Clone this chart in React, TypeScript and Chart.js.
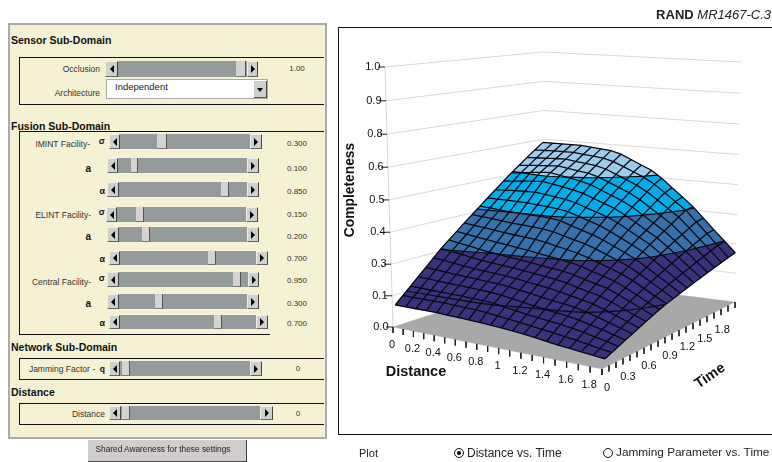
import React, { useEffect, useRef } from "react";
import { Chart, registerables } from "chart.js";

Chart.register(...registerables);

const distanceValues = [0, 0.1, 0.2, 0.3, 0.4, 0.5, 0.6, 0.7, 0.8, 0.9, 1.0, 1.1, 1.2, 1.3, 1.4, 1.5, 1.6, 1.7, 1.8, 1.9];
const timeValues = [0, 0.1, 0.2, 0.3, 0.4, 0.5, 0.6, 0.7, 0.8, 0.9, 1.0, 1.1, 1.2, 1.3, 1.4, 1.5, 1.6, 1.7, 1.8, 1.9];
const distanceTickValues = [0, 0.2, 0.4, 0.6, 0.8, 1, 1.2, 1.4, 1.6, 1.8];
const distanceTickLabels = ["0", "0.2", "0.4", "0.6", "0.8", "1", "1.2", "1.4", "1.6", "1.8"];
const timeTickValues = [0, 0.3, 0.6, 0.9, 1.2, 1.5, 1.8];
const timeTickLabels = ["0", "0.3", "0.6", "0.9", "1.2", "1.5", "1.8"];
const completenessTickValues = [0, 0.125, 0.25, 0.375, 0.5, 0.625, 0.75, 0.875, 1];
const completenessTickLabels = ["0.0", "0.1", "0.3", "0.4", "0.5", "0.6", "0.8", "0.9", "1.0"];
const bandEdges = [0, 0.125, 0.25, 0.375, 0.5, 1];
const bandColors = ["#39327d", "#39327d", "#3871aa", "#00ade9", "#9fcbea"];

// completeness[time index][distance index]
const completeness = [
  [.085,.085,.085,.085,.085,.083,.082,.081,.079,.076,.074,.071,.067,.062,.056,.051,.047,.043,.039,.035],
  [.112,.112,.112,.112,.112,.110,.109,.108,.105,.100,.095,.091,.086,.081,.076,.070,.064,.058,.051,.045],
  [.139,.138,.137,.137,.136,.135,.133,.132,.129,.122,.116,.110,.105,.100,.095,.089,.081,.073,.064,.055],
  [.167,.165,.163,.161,.160,.158,.156,.154,.150,.144,.137,.131,.125,.120,.114,.107,.097,.087,.076,.065],
  [.195,.192,.189,.186,.183,.181,.178,.176,.172,.166,.160,.153,.147,.142,.135,.126,.114,.101,.088,.075],
  [.224,.220,.215,.211,.206,.203,.200,.197,.193,.187,.182,.176,.169,.161,.152,.144,.130,.115,.100,.085],
  [.253,.247,.241,.235,.229,.226,.222,.218,.214,.209,.204,.199,.191,.181,.171,.162,.147,.130,.113,.096],
  [.279,.272,.266,.259,.253,.249,.244,.240,.235,.230,.225,.221,.212,.201,.191,.180,.163,.144,.125,.106],
  [.305,.299,.294,.288,.283,.278,.273,.268,.262,.256,.250,.244,.235,.222,.210,.197,.178,.157,.136,.116],
  [.332,.327,.323,.318,.313,.309,.306,.302,.296,.287,.279,.270,.258,.243,.229,.214,.194,.171,.148,.126],
  [.358,.354,.351,.347,.343,.341,.338,.335,.329,.318,.307,.297,.283,.266,.249,.232,.209,.184,.159,.134],
  [.385,.382,.379,.376,.374,.373,.372,.370,.364,.350,.337,.324,.308,.289,.270,.249,.224,.197,.170,.142],
  [.412,.411,.411,.410,.409,.406,.403,.399,.392,.378,.365,.351,.332,.311,.290,.268,.240,.210,.180,.150],
  [.439,.441,.443,.445,.446,.441,.435,.429,.420,.405,.391,.377,.358,.334,.310,.286,.255,.223,.190,.158],
  [.467,.471,.476,.480,.483,.476,.468,.460,.450,.434,.418,.402,.380,.354,.328,.303,.270,.235,.200,.166],
  [.495,.500,.505,.510,.512,.505,.497,.489,.478,.460,.442,.425,.403,.375,.347,.320,.285,.248,.211,.174],
  [.521,.524,.528,.531,.533,.527,.520,.514,.503,.485,.467,.449,.425,.396,.367,.338,.300,.261,.221,.182],
  [.548,.550,.552,.554,.555,.549,.544,.538,.528,.509,.491,.472,.448,.418,.387,.357,.316,.274,.232,.190],
  [.574,.575,.576,.577,.577,.572,.568,.563,.552,.534,.515,.496,.471,.439,.407,.375,.331,.287,.242,.198],
  [.600,.600,.600,.600,.600,.596,.592,.588,.576,.557,.537,.518,.488,.452,.416,.380,.336,.291,.248,.205],
];

const sliderNames = ["Occlusion", "IMINT sigma", "IMINT a", "IMINT alpha", "ELINT sigma", "ELINT a", "ELINT alpha", "Central sigma", "Central a", "Central alpha", "Jamming", "Distance"];
const sliderReadouts = ["1.00", "0.300", "0.100", "0.850", "0.150", "0.200", "0.700", "0.950", "0.300", "0.700", "0", "0"];

// Slider widgets: [top, height, left, right, thumbLeft, thumbWidth, leftButton, rightButton, readoutY]
const sliderBoxes = [
  [61, 16, 105, 258, 236, 10, 13, 11, 69],
  [134, 15, 109, 262, 157, 10, 11, 12, 144],
  [158, 15, 107, 259, 131, 7, 11, 12, 169],
  [182, 15, 107, 259, 221, 8, 12, 12, 192],
  [207, 15, 106, 258, 136, 8, 11, 12, 215],
  [227, 15, 107, 259, 142, 8, 12, 12, 237],
  [251, 14, 109, 268, 208, 8, 11, 12, 259],
  [272, 15, 107, 259, 233, 8, 12, 11, 281],
  [294, 15, 107, 259, 155, 8, 12, 12, 304],
  [315, 14, 109, 268, 214, 8, 11, 12, 324],
  [361, 15, 109, 262, 122, 8, 11, 12, 369],
  [406, 14, 109, 273, 122, 8, 12, 13, 414],
];

const FONT = '"Liberation Sans", Arial, sans-serif';

// Floor corners of the 3D box on the page and the height of its walls there.
const floorCorners = [[393, 327], [602, 369], [735, 302], [545, 278]];
const wallHeights = [260, 290, 240, 226];
const MAXD = 1.9;
const MAXT = 1.9;

function project(d: number, t: number, z: number, inset = false) {
  const raw = d / MAXD, v = t / MAXT;
  const u = (0.92 * raw) / (1 - 0.08 * raw);
  const w = [(1 - u) * (1 - v), u * (1 - v), u * v, (1 - u) * v];
  const fx = w.reduce((s, k, i) => s + k * floorCorners[i][0], 0);
  const fy = w.reduce((s, k, i) => s + k * floorCorners[i][1], 0);
  const S = w.reduce((s, k, i) => s + k * wallHeights[i], 0);
  const shift = inset ? 3 * (1 - v) - 1 * v : 0;
  return { x: fx + (fx - 589) * 0.041 * z + shift, y: fy - S * z };
}
// The walls' levels sit slightly lower mid-height on the page.
const wallLevel = (z: number) => z - 0.045 * z * (1 - z);

type V = { d: number; t: number; z: number };
function clipAbove(poly: V[], level: number, keepAbove: boolean): V[] {
  const out: V[] = [];
  for (let k = 0; k < poly.length; k++) {
    const a = poly[k], b = poly[(k + 1) % poly.length];
    const ina = keepAbove ? a.z >= level : a.z <= level;
    const inb = keepAbove ? b.z >= level : b.z <= level;
    if (ina) out.push(a);
    if (ina !== inb) {
      const f = (level - a.z) / (b.z - a.z);
      out.push({ d: a.d + f * (b.d - a.d), t: a.t + f * (b.t - a.t), z: level });
    }
  }
  return out;
}

function surfaceDatasets() {
  const sets: any[] = [];
  const polyBase = { type: "scatter", showLine: false, pointRadius: 0 };
  const lineBase = { type: "scatter", showLine: true, pointRadius: 0, fill: false, spanGaps: false, tension: 0 };

  // Back walls
  const wall: any[] = [];
  completenessTickValues.forEach((z) => {
    if (z === 0) return;
    const lv = wallLevel(z);
    wall.push(project(0, 0, lv), project(0, MAXT, lv), project(MAXD, MAXT, lv), { x: NaN, y: NaN });
  });
  wall.push(project(0, 0, 0), project(0, 0, 1));
  sets.push({ ...lineBase, label: "walls", data: wall, borderColor: "#d8d8d8", borderWidth: 1 });

  // Floor
  sets.push({
    ...polyBase, label: "floor", polyFill: "#a8a8a8",
    data: [project(0, 0, 0), project(MAXD, 0, 0), project(MAXD, MAXT, 0), project(0, MAXT, 0)],
  });

  // Axis ticks
  const ticks: any[] = [];
  const zticks: any[] = [];
  distanceValues.forEach((d) => {
    const p = project(d, 0, 0);
    ticks.push(p, { x: p.x, y: p.y + 6 }, { x: NaN, y: NaN });
  });
  timeValues.forEach((t) => {
    const p = project(MAXD, t, 0);
    ticks.push(p, { x: p.x, y: p.y + 6 }, { x: NaN, y: NaN });
  });
  completenessTickValues.forEach((z) => {
    const p = project(0, 0, wallLevel(z));
    zticks.push({ x: p.x - 7, y: p.y }, p, { x: NaN, y: NaN });
  });
  sets.push({ ...lineBase, label: "ticks", data: ticks, borderColor: "#222", borderWidth: 1 });
  sets.push({ ...lineBase, label: "zticks", data: zticks, borderColor: "#222", borderWidth: 1 });

  // Filled surface, back to front, cut along the colour bands
  const n = timeValues.length, m = distanceValues.length;
  for (let j = n - 2; j >= 0; j--) {
    for (let i = 0; i < m - 1; i++) {
      const quad: V[] = [
        { d: distanceValues[i], t: timeValues[j], z: completeness[j][i] },
        { d: distanceValues[i + 1], t: timeValues[j], z: completeness[j][i + 1] },
        { d: distanceValues[i + 1], t: timeValues[j + 1], z: completeness[j + 1][i + 1] },
        { d: distanceValues[i], t: timeValues[j + 1], z: completeness[j + 1][i] },
      ];
      bandColors.forEach((color, b) => {
        let poly = clipAbove(quad, bandEdges[b], true);
        if (poly.length) poly = clipAbove(poly, bandEdges[b + 1], false);
        if (poly.length < 3) return;
        sets.push({
          ...polyBase, label: "cell", polyFill: color,
          data: poly.map((p) => project(p.d, p.t, p.z, true)),
        });
      });
    }
  }

  // Mesh
  const mesh: any[] = [];
  for (let j = 0; j < n; j++) {
    for (let i = 0; i < m; i++) mesh.push(project(distanceValues[i], timeValues[j], completeness[j][i], true));
    mesh.push({ x: NaN, y: NaN });
  }
  for (let i = 0; i < m; i++) {
    for (let j = 0; j < n; j++) mesh.push(project(distanceValues[i], timeValues[j], completeness[j][i], true));
    mesh.push({ x: NaN, y: NaN });
  }
  sets.push({ ...lineBase, label: "mesh", data: mesh, borderColor: "#08080f", borderWidth: 1.3 });

  // Contours at the band edges
  const contour: any[] = [];
  [0.125, 0.25, 0.375, 0.5].forEach((level) => {
    for (let j = 0; j < n - 1; j++) {
      for (let i = 0; i < m - 1; i++) {
        const c: V[] = [
          { d: distanceValues[i], t: timeValues[j], z: completeness[j][i] },
          { d: distanceValues[i + 1], t: timeValues[j], z: completeness[j][i + 1] },
          { d: distanceValues[i + 1], t: timeValues[j + 1], z: completeness[j + 1][i + 1] },
          { d: distanceValues[i], t: timeValues[j + 1], z: completeness[j + 1][i] },
        ];
        const hits: any[] = [];
        for (let k = 0; k < 4; k++) {
          const a = c[k], b = c[(k + 1) % 4];
          if (a.z >= level !== b.z >= level) {
            const f = (level - a.z) / (b.z - a.z);
            hits.push(project(a.d + f * (b.d - a.d), a.t + f * (b.t - a.t), level, true));
          }
        }
        for (let k = 0; k + 1 < hits.length; k += 2) contour.push(hits[k], hits[k + 1], { x: NaN, y: NaN });
      }
    }
  });
  sets.push({ ...lineBase, label: "contours", data: contour, borderColor: "#08080f", borderWidth: 1.2 });
  return sets;
}

const polyPlugin = {
  id: "polyFill",
  beforeDatasetDraw(chart: any, args: any) {
    const ds = chart.data.datasets[args.index];
    if (!ds.polyFill) return;
    const pts = args.meta.data;
    const ctx = chart.ctx;
    ctx.save();
    ctx.beginPath();
    pts.forEach((p: any, k: number) => (k ? ctx.lineTo(p.x, p.y) : ctx.moveTo(p.x, p.y)));
    ctx.closePath();
    ctx.fillStyle = ds.polyFill;
    ctx.strokeStyle = ds.polyFill;
    ctx.lineWidth = 0.4;
    ctx.fill();
    ctx.stroke();
    ctx.restore();
  },
};

const labelPlugin = {
  id: "axisLabels",
  afterDatasetsDraw(chart: any) {
    const ctx = chart.ctx;
    const xs = chart.scales.x, ys = chart.scales.y;
    const put = (p: { x: number; y: number }, ox: number, oy: number, text: string, font: string, align: CanvasTextAlign = "center", angle = 0) => {
      ctx.save();
      ctx.translate(xs.getPixelForValue(p.x) + ox, ys.getPixelForValue(p.y) + oy);
      ctx.rotate(angle);
      ctx.font = font;
      ctx.fillStyle = "#111";
      ctx.textAlign = align;
      ctx.textBaseline = "middle";
      ctx.fillText(text, 0, 0);
      ctx.restore();
    };
    const small = `11px ${FONT}`;
    completenessTickValues.forEach((z, k) => put(project(0, 0, wallLevel(z)), -4.5, 0, completenessTickLabels[k], small, "right"));
    distanceTickValues.forEach((d, k) => put(project(d, 0, 0), -1, 18, distanceTickLabels[k], small));
    timeTickValues.forEach((t, k) => {
      const far = Math.max(0, t - 0.9);
      put(project(MAXD, t, 0), 5 - far * 12, 18.5 + far * 7, timeTickLabels[k], small);
    });
    put({ x: 416, y: 372 }, 0, 0, "Distance", `bold 14.5px ${FONT}`);
    put({ x: 710, y: 376 }, 0, 0, "Time", `bold 14.5px ${FONT}`, "center", -0.6);
    put({ x: 350, y: 190 }, 0, 0, "Completeness", `bold 13.8px ${FONT}`, "center", -Math.PI / 2);
  },
};

const abs = (left: number, top: number, width: number, height: number, extra: any = {}) => ({
  position: "absolute" as const, left, top, width, height, boxSizing: "border-box" as const, ...extra,
});

function Arrow({ dir }: { dir: "l" | "r" }) {
  return (
    <span style={{
      position: "absolute", left: "50%", top: "50%", marginLeft: -2, marginTop: -4, width: 0, height: 0,
      borderTop: "4px solid transparent", borderBottom: "4px solid transparent",
      ...(dir === "l" ? { borderRight: "4px solid #000" } : { borderLeft: "4px solid #000" }),
    }} />
  );
}

function Slider({ box, name }: { box: number[]; name: string }) {
  const [top, h, left, right, tl, tw, lb, rb] = box;
  const btn = { background: "#cfcfcb", borderTop: "1px solid #eee", borderLeft: "1px solid #eee", borderRight: "1px solid #444", borderBottom: "1px solid #666" };
  return (
    <div title={name}>
      <div style={abs(left, top, right - left, h, { background: "#959b9b" })} />
      <div style={abs(left, top, lb, h, btn)}><Arrow dir="l" /></div>
      <div style={abs(right - rb, top, rb, h, btn)}><Arrow dir="r" /></div>
      <div style={abs(tl, top, tw, h, { background: "#d4d3cf", borderRight: "1px solid #555", borderBottom: "1px solid #777" })} />
    </div>
  );
}

function Txt({ x, y, right, center, size = 9, bold, color = "#333", children }: any) {
  const pos: any = { position: "absolute", top: y, transform: "translateY(-50%)", whiteSpace: "nowrap", fontSize: size, fontWeight: bold ? 700 : 400, color, lineHeight: 1, fontFamily: FONT };
  if (right !== undefined) { pos.right = 772 - right; }
  else if (center !== undefined) { pos.left = center; pos.transform = "translate(-50%,-50%)"; }
  else pos.left = x;
  return <div style={pos}>{children}</div>;
}

function GroupBox({ top, bottom, bottomRight = 324 }: any) {
  return (
    <>
      <div style={abs(19, top, 305, 1, { background: "#111" })} />
      <div style={abs(19, top, 1, bottom - top, { background: "#111" })} />
      <div style={abs(19, bottom, bottomRight - 19, 1, { background: "#111" })} />
    </>
  );
}

function Radio({ x, y, on }: any) {
  return (
    <div style={abs(x - 5, y - 5, 10, 10, { border: "1.5px solid #111", borderRadius: "50%", background: "#fff" })}>
      {on && <div style={{ position: "absolute", left: 2, top: 2, width: 3.5, height: 3.5, borderRadius: "50%", background: "#111" }} />}
    </div>
  );
}

export default function App() {
  const ref = useRef<HTMLCanvasElement>(null);
  useEffect(() => {
    const layers = surfaceDatasets().reverse();
    const chart = new Chart(ref.current as any, {
      type: "scatter",
      data: { datasets: layers },
      plugins: [polyPlugin, labelPlugin],
      options: {
        animation: false,
        responsive: false,
        events: [],
        layout: { padding: 0 },
        plugins: { legend: { display: false }, tooltip: { enabled: false } },
        scales: {
          x: { type: "linear", min: 0, max: 772, display: false },
          y: { type: "linear", min: 0, max: 462, reverse: true, display: false },
        },
      },
    } as any);
    return () => chart.destroy();
  }, []);

  return (
    <div style={{ position: "fixed", left: 0, top: 0, width: 772, height: 462, overflow: "hidden", background: "#fff", fontFamily: FONT }}>
      <canvas ref={ref} width={772} height={462} style={{ position: "absolute", left: 0, top: 0, width: 772, height: 462 }} />

      {/* plot frame */}
      <div style={abs(338, 27, 440, 408, { border: "1px solid #111" })} />

      <div style={{ position: "absolute", right: 1, top: 14, transform: "translateY(-50%)", fontSize: 13, lineHeight: 1, color: "#222", whiteSpace: "nowrap" }}>
        <b>RAND</b> <i>MR1467-C.3</i>
      </div>

      {/* control panel */}
      <div style={abs(8, 23, 319, 416, { background: "#f5f1d4", border: "2px solid #a9acaa" })} />
      <Txt x={11} y={40} size={10.5} bold color="#111">Sensor Sub-Domain</Txt>
      <GroupBox top={57} bottom={104} />
      <Txt x={11} y={126} size={10.5} bold color="#111">Fusion Sub-Domain</Txt>
      <GroupBox top={131} bottom={334} bottomRight={270} />
      <Txt x={11} y={347} size={10.5} bold color="#111">Network Sub-Domain</Txt>
      <GroupBox top={358} bottom={379} />
      <Txt x={11} y={392} size={10.5} bold color="#111">Distance</Txt>
      <GroupBox top={403} bottom={424} />

      {sliderBoxes.map((b, k) => <Slider key={k} box={b} name={sliderNames[k]} />)}
      {sliderBoxes.map((b, k) => <Txt key={k} center={sliderReadouts[k].length > 1 ? 297 : 298} y={b[8]} size={8}>{sliderReadouts[k]}</Txt>)}

      <Txt right={100} y={69} size={8.5}>Occlusion</Txt>
      <Txt right={100} y={93} size={8.5}>Architecture</Txt>
      <div style={abs(106, 79, 162, 20, { background: "#fff", border: "1px solid #aaa" })} />
      <Txt x={115} y={87} size={9.5} color="#222">Independent</Txt>
      <div style={abs(254, 81, 13, 17, { background: "#cfcfcb", borderRight: "1px solid #444", borderBottom: "1px solid #555" })}>
        <span style={{ position: "absolute", left: 3, top: 7, width: 0, height: 0, borderLeft: "3.5px solid transparent", borderRight: "3.5px solid transparent", borderTop: "4px solid #000" }} />
      </div>

      <Txt right={90} y={144} size={8.5}>IMINT Facility-</Txt>
      <Txt right={91} y={215} size={8.5}>ELINT Facility-</Txt>
      <Txt right={91} y={282} size={8.5}>Central Facility-</Txt>
      {[141, 212, 278].map((y) => <Txt key={y} right={105} y={y} size={9} bold color="#111">σ</Txt>)}
      {[169, 237, 304].map((y) => <Txt key={y} right={91} y={y} size={10} bold color="#111">a</Txt>)}
      {[191, 259, 323].map((y) => <Txt key={y} right={105} y={y} size={9} bold color="#111">α</Txt>)}
      <Txt right={95} y={369} size={8.5}>Jamming Factor -</Txt>
      <Txt right={105} y={369} size={8.5} bold color="#111">q</Txt>
      <Txt right={105} y={414} size={8.5}>Distance</Txt>

      <div style={abs(88, 440, 159, 22, { background: "#d0cdcc", borderRight: "1px solid #444", borderBottom: "1px solid #444" })} />
      <Txt center={163} y={449} size={8.3} color="#222">Shared Awareness for these settings</Txt>

      <Txt x={359} y={453} size={11} color="#222">Plot</Txt>
      <Radio x={459} y={453} on />
      <Txt x={467} y={453} size={12} color="#222">Distance vs. Time</Txt>
      <Radio x={608} y={453} />
      <Txt x={616} y={453} size={11.8} color="#222">Jamming Parameter vs. Time</Txt>
    </div>
  );
}
